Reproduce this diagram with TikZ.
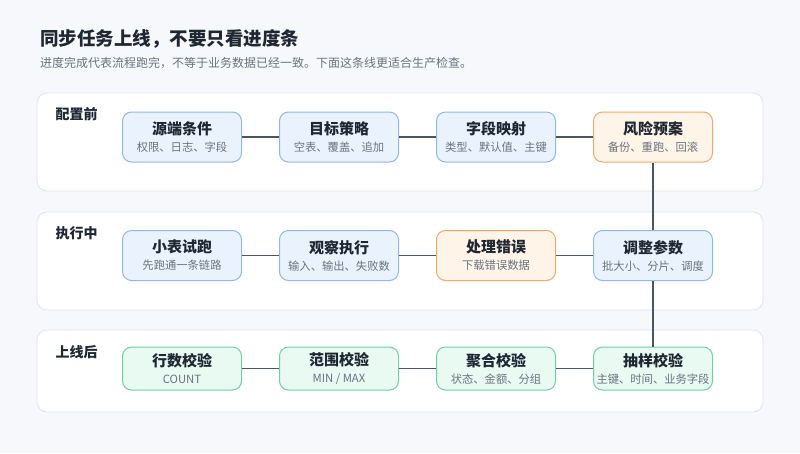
\documentclass[tikz,border=0pt]{standalone}
\usepackage{fontspec}
\setmainfont{Noto Sans CJK SC}
\usetikzlibrary{positioning}

\definecolor{pagebg}{HTML}{F6F8FB}
\definecolor{panelline}{HTML}{E0E4EA}
\definecolor{titleink}{HTML}{1F2733}
\definecolor{subgray}{HTML}{6B7380}
\definecolor{linkc}{HTML}{4A5568}
\definecolor{bluefill}{HTML}{EAF3FD}
\definecolor{blueline}{HTML}{8FB9E2}
\definecolor{orangefill}{HTML}{FFF4E8}
\definecolor{orangeline}{HTML}{F2A966}
\definecolor{greenfill}{HTML}{E8FAF2}
\definecolor{greenline}{HTML}{6CD1A6}

\newcommand{\stagetxt}[2]{{\fontsize{15}{17}\selectfont\bfseries\color{titleink}#1}\\#2}

\begin{document}
\begin{tikzpicture}[
    x=1pt, y=-1pt,
    panel/.style={draw=panelline, fill=white, rounded corners=10pt, line width=0.8pt},
    stage/.style={draw, rounded corners=9pt, minimum width=119pt, minimum height=50pt, align=center,
      inner sep=0pt, line width=1pt, text=subgray, font=\fontsize{11.3}{17}\selectfont},
    bluebox/.style={stage, fill=bluefill, draw=blueline},
    orangebox/.style={stage, fill=orangefill, draw=orangeline},
    greenbox/.style={stage, fill=greenfill, draw=greenline, minimum height=43pt},
    phase/.style={anchor=west, text=titleink, font=\fontsize{14}{16}\selectfont\bfseries},
    link/.style={draw=linkc, line width=1.5pt}
  ]
  \fill[pagebg] (0,0) rectangle (800,453);
  \useasboundingbox (0,0) rectangle (800,453);

  % heading
  \node[anchor=west, inner sep=0pt, text=titleink, font=\fontsize{18.5}{20}\selectfont\bfseries] (title) at (40,39) {同步任务上线，不要只看进度条};
  \node[anchor=west, inner sep=0pt, text=subgray, font=\fontsize{12}{14}\selectfont] (subtitle) at (40,63) {进度完成代表流程跑完，不等于业务数据已经一致。下面这条线更适合生产检查。};

  % three phases
  \draw[panel] (37,93) rectangle (763,191);
  \draw[panel] (37,212) rectangle (763,310);
  \draw[panel] (37,330) rectangle (763,412);
  \node[phase] (pre) at (52,114) {配置前};
  \node[phase] (run) at (52,233) {执行中};
  \node[phase] (post) at (52,352) {上线后};

  % row 1
  \node[bluebox] (src) at (182,137) {\stagetxt{源端条件}{权限、日志、字段}};
  \node[bluebox, right=37pt of src] (tgt) {\stagetxt{目标策略}{空表、覆盖、追加}};
  \node[bluebox, right=37pt of tgt] (map) {\stagetxt{字段映射}{类型、默认值、主键}};
  \node[orangebox, right=37pt of map] (risk) {\stagetxt{风险预案}{备份、重跑、回滚}};

  % row 2
  \node[bluebox] (trial) at (182,255.5) {\stagetxt{小表试跑}{先跑通一条链路}};
  \node[bluebox, right=37pt of trial] (watch) {\stagetxt{观察执行}{输入、输出、失败数}};
  \node[orangebox, right=37pt of watch] (err) {\stagetxt{处理错误}{下载错误数据}};
  \node[bluebox, right=37pt of err] (tune) {\stagetxt{调整参数}{批大小、分片、调度}};

  % row 3
  \node[greenbox] (rows) at (182,368.5) {\stagetxt{行数校验}{COUNT}};
  \node[greenbox, right=37pt of rows] (range) {\stagetxt{范围校验}{MIN / MAX}};
  \node[greenbox, right=37pt of range] (agg) {\stagetxt{聚合校验}{状态、金额、分组}};
  \node[greenbox, right=37pt of agg] (sample) {\stagetxt{抽样校验}{主键、时间、业务字段}};

  \draw[link] (src) -- (tgt);
  \draw[link] (tgt) -- (map);
  \draw[link] (map) -- (risk);
  \draw[link] (risk) -- (tune);
  \draw[link] (trial) -- (watch);
  \draw[link] (watch) -- (err);
  \draw[link] (err) -- (tune);
  \draw[link] (tune) -- (sample);
  \draw[link] (rows) -- (range);
  \draw[link] (range) -- (agg);
  \draw[link] (agg) -- (sample);
\end{tikzpicture}
\end{document}
